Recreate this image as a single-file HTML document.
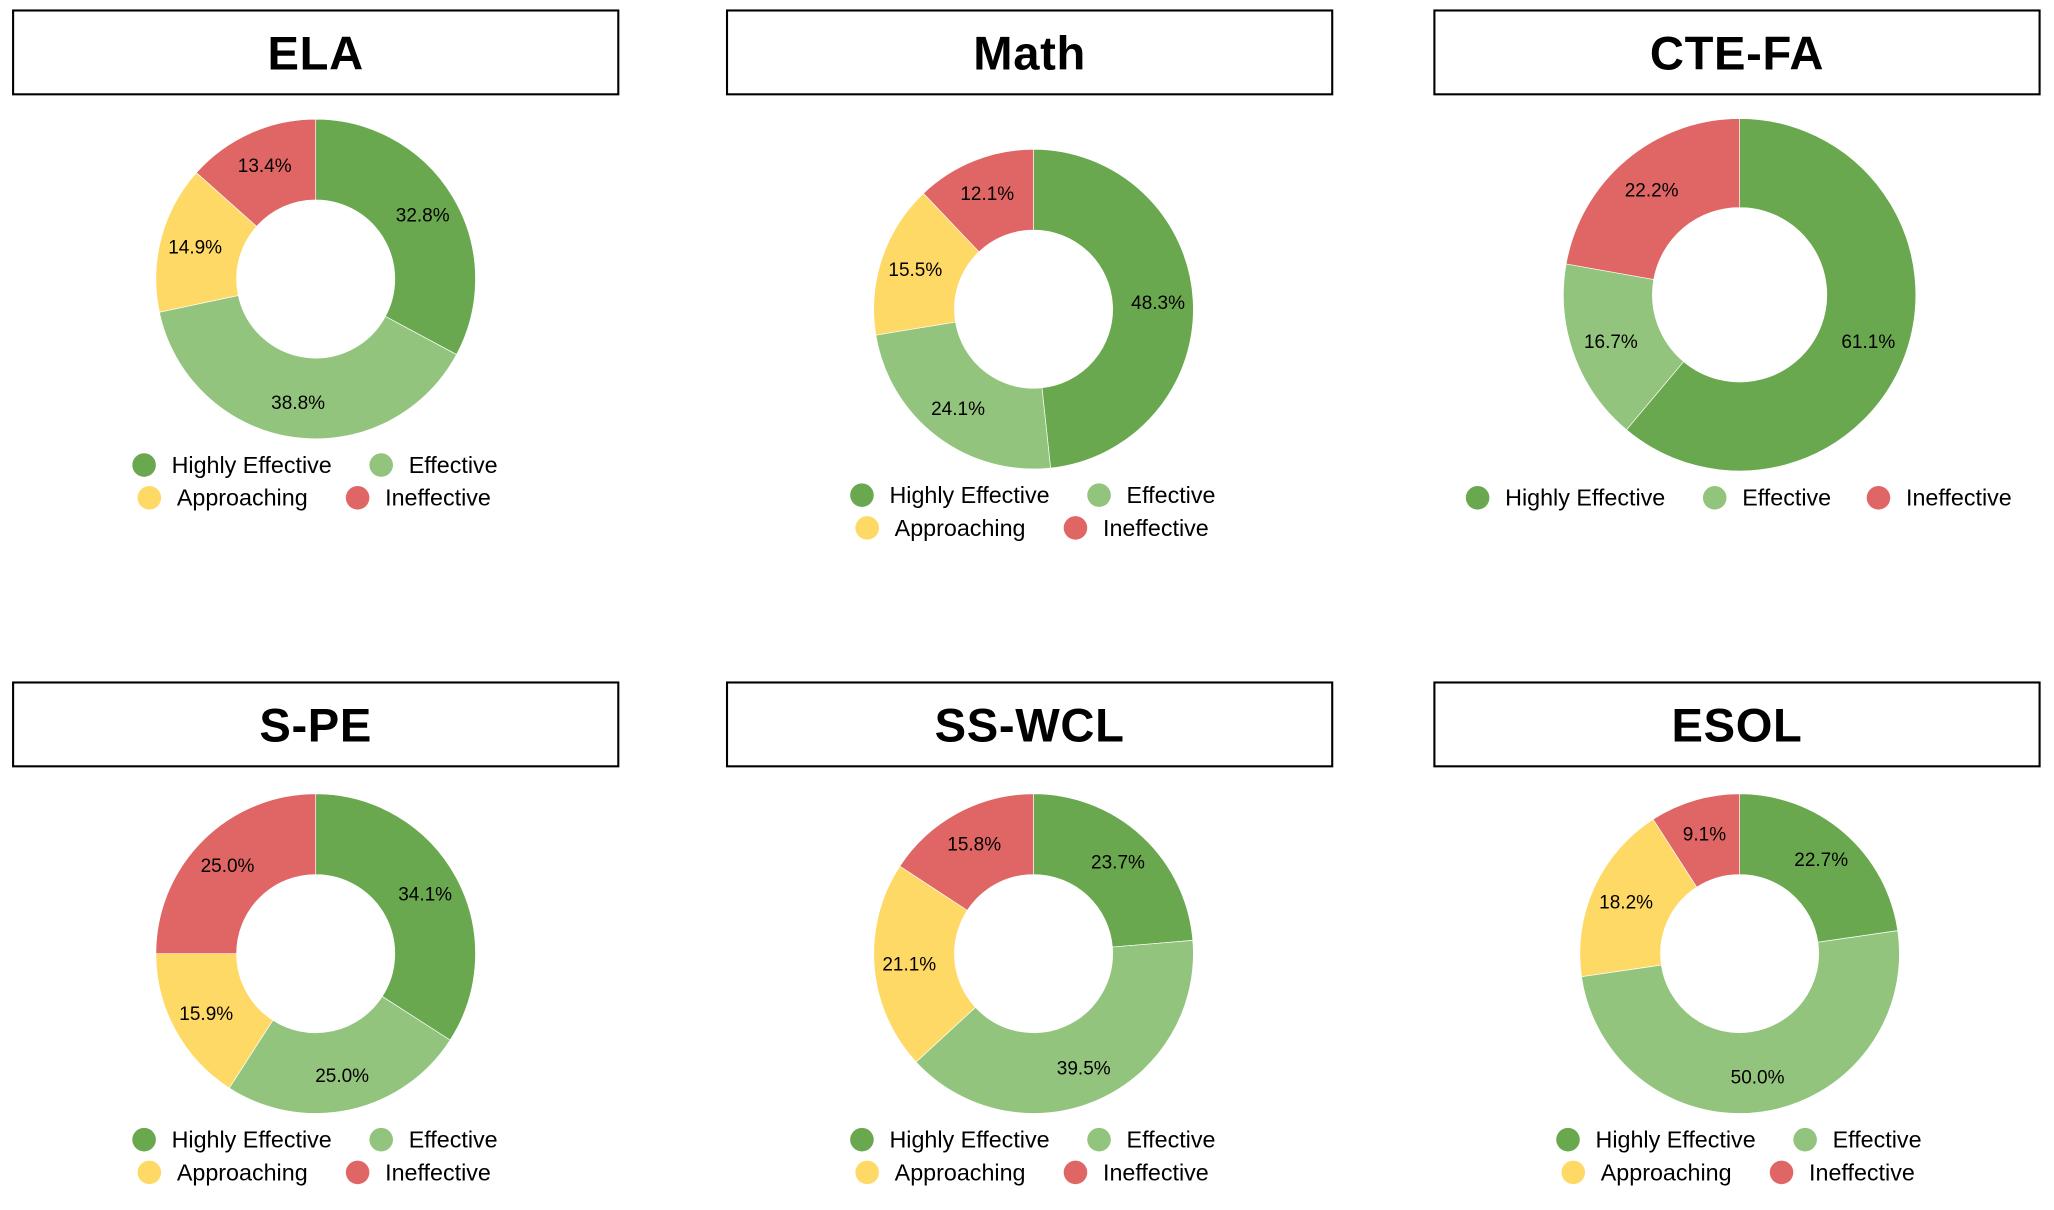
<!DOCTYPE html>
<html><head><meta charset="utf-8"><style>
html,body{margin:0;padding:0;background:#fff;}
svg{display:block;font-family:"Liberation Sans",Arial,sans-serif;}
</style></head><body>
<svg id="chart" width="2054" height="1210" viewBox="0 0 1568 923.7" preserveAspectRatio="none" xmlns="http://www.w3.org/2000/svg"></svg>
<script>
const categories = ["Highly Effective","Effective","Approaching","Ineffective"];
const colors = ["#6aa84f","#93c47d","#ffd966","#e06666"];
const titles = ["ELA","Math","CTE-FA","S-PE","SS-WCL","ESOL"];
const elaValues = [32.8,38.8,14.9,13.4];
const mathValues = [48.3,24.1,15.5,12.1];
const cteValues = [61.1,16.7,0,22.2];
const speValues = [34.1,25.0,15.9,25.0];
const sswclValues = [23.7,39.5,21.1,15.8];
const esolValues = [22.7,50.0,18.2,9.1];
const seriesValues = [elaValues,mathValues,cteValues,speValues,sswclValues,esolValues];
const NS="http://www.w3.org/2000/svg";
const svg=document.getElementById('chart');
function mk(tag,attrs,parent){const e=document.createElementNS(NS,tag);for(const k in attrs)e.setAttribute(k,attrs[k]);(parent||svg).appendChild(e);return e;}
const boxX=[10,555,1095], boxY=[8,521];
const layout=[
 {cx:241,cy:213,r:122,ly:355},
 {cx:789,cy:236,r:122,ly:378},
 {cx:1328,cy:225,r:134.5,ly:380},
 {cx:241,cy:728,r:122,ly:870},
 {cx:789,cy:728,r:122,ly:870},
 {cx:1328,cy:728,r:122,ly:870}
];
function pt(cx,cy,r,a){return [cx+r*Math.sin(a),cy-r*Math.cos(a)];}
titles.forEach((t,i)=>{
 const col=i%3,row=Math.floor(i/3);
 const g=mk('g',{});
 
 
 const bx=mk('rect',{x:boxX[col],y:boxY[row],width:462,height:64,fill:'#fff',stroke:'#000','stroke-width':1.6},g);
 
 
 const tt=mk('text',{x:boxX[col]+231,y:boxY[row]+45,'text-anchor':'middle','font-size':36,'font-weight':'bold',fill:'#000','letter-spacing':'0.5'},g);
 tt.textContent=t;
 
 
 const L=layout[i],vals=seriesValues[i];
 const total=vals.reduce((a,b)=>a+b,0);
 const ri=L.r*0.495;
 let a0=0;
 vals.forEach((v,k)=>{
  if(v<=0)return;
  const a1=a0+v/total*2*Math.PI;
  const p1=pt(L.cx,L.cy,L.r,a0),p2=pt(L.cx,L.cy,L.r,a1),p3=pt(L.cx,L.cy,ri,a1),p4=pt(L.cx,L.cy,ri,a0);
  const lg=(a1-a0)>Math.PI?1:0;
  const d=`M${p1[0]},${p1[1]}A${L.r},${L.r} 0 ${lg} 1 ${p2[0]},${p2[1]}L${p3[0]},${p3[1]}A${ri},${ri} 0 ${lg} 0 ${p4[0]},${p4[1]}Z`;
  const s=mk('path',{d:d,fill:colors[k],stroke:'#fff','stroke-width':0.5},g);
  
  
  const am=(a0+a1)/2,lp=pt(L.cx,L.cy,(L.r+ri)/2+4,am);
  const lt=mk('text',{x:lp[0],y:lp[1]+5,'text-anchor':'middle','font-size':14.5,fill:'#000'},g);
  lt.textContent=v.toFixed(1)+'%';
  
  
  a0=a1;
 });
 const present=categories.map((c,k)=>k).filter(k=>vals[k]>0);
 let items;
 if(present.length===3){
  items=[[present[0],-200,0],[present[1],-19,0],[present[2],106,0]];
 }else{
  items=[[0,-131,0],[1,50,0],[2,-127,25],[3,32,25]];
 }
 items.forEach(([k,dx,dy])=>{
  const lgI=mk('g',{},g);
  
  
  mk('circle',{cx:L.cx+dx,cy:L.ly+dy,r:9,fill:colors[k]},lgI);
  const tx=mk('text',{x:L.cx+dx+21,y:L.ly+dy+6,'font-size':17.8,fill:'#000'},lgI);
  tx.textContent=categories[k];
 });
});
</script>
</body></html>
